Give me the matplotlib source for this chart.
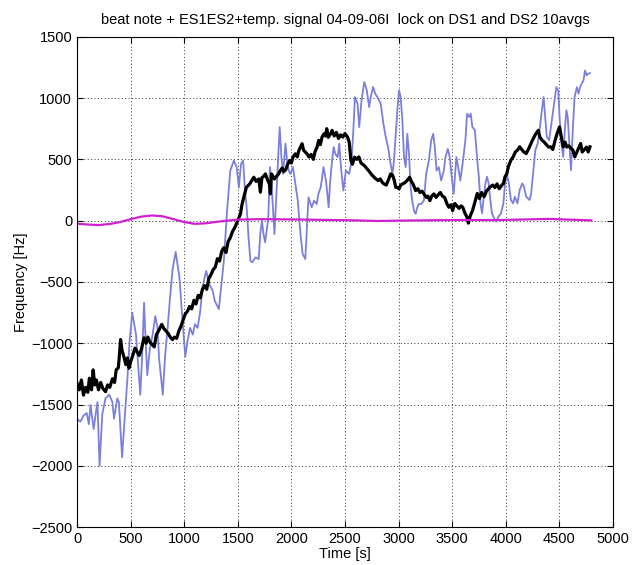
import numpy as np
import matplotlib.pyplot as plt

plt.rcParams['font.family'] = ['Liberation Sans', 'DejaVu Sans']

# blue trace
blue_t = [0, 30, 60, 90, 110, 125, 155, 170, 190, 210, 235, 265, 300, 330, 345, 375, 390, 420, 445, 470,
          490, 515, 550, 565, 590, 605, 625, 640, 655, 680, 705, 730, 750, 765, 800, 820, 845, 865, 890, 920,
          955, 980, 1010, 1030, 1055, 1080, 1100, 1125, 1150, 1170, 1205, 1235, 1265, 1285, 1323, 1370, 1400, 1430, 1463, 1490,
          1510, 1530, 1550, 1565, 1585, 1600, 1618, 1635, 1665, 1695, 1710, 1725, 1740, 1755, 1770, 1785, 1800, 1815, 1842, 1860,
          1875, 1891, 1907, 1922, 1945, 1960, 1975, 1990, 2015, 2037, 2060, 2085, 2105, 2130, 2145, 2160, 2190, 2212, 2237, 2252,
          2274, 2300, 2323, 2348, 2363, 2380, 2395, 2410, 2432, 2447, 2463, 2485, 2509, 2540, 2562, 2580, 2593, 2618, 2633, 2655,
          2680, 2704, 2726, 2741, 2763, 2782, 2803, 2834, 2859, 2881, 2902, 2921, 2943, 2958, 2974, 2989, 3005, 3020, 3036, 3051,
          3067, 3082, 3098, 3113, 3128, 3144, 3160, 3175, 3190, 3212, 3237, 3258, 3283, 3305, 3324, 3339, 3355, 3376, 3398, 3423,
          3438, 3460, 3478, 3500, 3515, 3540, 3562, 3577, 3602, 3624, 3640, 3660, 3674, 3689, 3713, 3735, 3750, 3765, 3780, 3796,
          3811, 3826, 3841, 3857, 3872, 3893, 3912, 3933, 3957, 3979, 3994, 4009, 4030, 4049, 4070, 4085, 4110, 4131, 4155, 4171,
          4192, 4223, 4238, 4262, 4277, 4299, 4320, 4338, 4354, 4369, 4384, 4406, 4427, 4451, 4473, 4491, 4503, 4521, 4537, 4552,
          4567, 4579, 4595, 4610, 4625, 4643, 4665, 4680, 4695, 4710, 4726, 4741, 4756, 4772, 4787]
blue_f = [-1615, -1640, -1590, -1570, -1660, -1505, -1700, -1600, -1480, -2000, -1580, -1450, -1420, -1480, -1615, -1450, -1480, -1930, -1600, -1285,
          -985, -750, -930, -1120, -1420, -1150, -670, -980, -1260, -1040, -930, -780, -870, -1120, -1420, -1120, -875, -655, -405, -255,
          -460, -765, -1110, -985, -875, -930, -845, -875, -735, -545, -410, -520, -570, -655, -722, -327, 80, 409, 490, 435,
          270, 463, 490, 270, 82, -136, -327, -340, -300, -313, -109, 0, -109, -177, -80, 27, 436, 300, -109, 218,
          490, 763, 518, 381, 627, 490, 409, 381, 436, 300, 163, -109, -272, -313, -55, 190, 109, 163, 136, 218,
          272, 436, 327, 109, 327, 490, 600, 545, 518, 627, 436, 245, 409, 381, 490, 763, 1008, 954, 763, 981,
          1131, 1063, 926, 1008, 1090, 1036, 1008, 954, 790, 681, 600, 490, 381, 490, 708, 900, 1063, 1008, 817, 518,
          436, 708, 545, 272, 163, 82, 55, 109, 136, 136, 163, 381, 490, 654, 708, 600, 409, 436, 327, 409,
          518, 585, 518, 327, 218, 518, 409, 327, 490, 654, 872, 846, 873, 765, 737, 493, 358, 141, 60, 195,
          304, 358, 304, 168, 60, 19, -8, 33, 60, 141, 304, 385, 304, 168, 141, 195, 141, 250, 304, 277,
          195, 168, 222, 439, 575, 629, 764, 900, 1008, 846, 683, 656, 792, 954, 1089, 1063, 846, 629, 520, 737,
          900, 846, 629, 412, 710, 1008, 1089, 1036, 1089, 1117, 1144, 1225, 1185, 1198, 1203]

# black trace
black_t = [0, 20, 40, 60, 80, 100, 115, 135, 150, 165, 180, 200, 220, 240, 265, 285, 305, 330, 350, 365,
           385, 395, 406, 420, 440, 455, 470, 485, 500, 520, 540, 560, 580, 600, 625, 645, 660, 680, 700, 720,
           740, 760, 775, 790, 810, 830, 850, 870, 890, 910, 930, 950, 970, 990, 1010, 1030, 1050, 1070, 1090, 1110,
           1130, 1150, 1170, 1190, 1210, 1230, 1250, 1270, 1290, 1310, 1330, 1350, 1370, 1390, 1410, 1430, 1450, 1470, 1490, 1500,
           1525, 1540, 1556, 1580, 1612, 1630, 1650, 1670, 1696, 1711, 1725, 1740, 1758, 1780, 1795, 1804, 1815, 1842, 1860, 1880,
           1898, 1915, 1930, 1950, 1966, 1985, 2000, 2015, 2037, 2055, 2070, 2085, 2100, 2115, 2130, 2150, 2165, 2185, 2205, 2220,
           2240, 2255, 2270, 2286, 2305, 2320, 2330, 2345, 2365, 2380, 2400, 2420, 2440, 2460, 2480, 2500, 2525, 2540, 2556, 2570,
           2590, 2610, 2630, 2650, 2680, 2700, 2720, 2745, 2772, 2790, 2810, 2830, 2850, 2865, 2885, 2900, 2927, 2945, 2960, 2974,
           2990, 3005, 3020, 3040, 3060, 3080, 3104, 3120, 3135, 3160, 3180, 3200, 3220, 3237, 3260, 3275, 3293, 3310, 3330, 3350,
           3370, 3390, 3410, 3430, 3453, 3470, 3490, 3505, 3525, 3545, 3565, 3585, 3600, 3620, 3640, 3652, 3670, 3690, 3710, 3735,
           3755, 3775, 3800, 3820, 3857, 3880, 3900, 3920, 3940, 3965, 3980, 3994, 4010, 4025, 4049, 4070, 4090, 4110, 4131, 4150,
           4170, 4192, 4210, 4223, 4250, 4270, 4283, 4305, 4320, 4340, 4360, 4380, 4400, 4421, 4440, 4460, 4480, 4503, 4520, 4537,
           4555, 4570, 4590, 4610, 4628, 4645, 4665, 4685, 4700, 4715, 4735, 4755, 4770, 4787]
black_f = [-1327, -1380, -1300, -1423, -1360, -1400, -1285, -1380, -1217, -1340, -1300, -1380, -1320, -1368, -1395, -1340, -1360, -1290, -1320, -1217,
           -1200, -1100, -970, -1060, -1120, -1175, -1120, -1203, -1150, -1100, -1040, -1070, -1100, -1050, -956, -1000, -950, -990, -1010, -1030,
           -930, -900, -873, -846, -880, -900, -920, -950, -970, -950, -960, -900, -860, -810, -760, -740, -700, -720, -650, -680,
           -610, -630, -560, -530, -560, -470, -440, -400, -380, -310, -330, -250, -220, -260, -170, -140, -90, -60, -20, 0,
           55, 136, 190, 272, 300, 327, 354, 320, 340, 232, 350, 360, 381, 327, 300, 218, 381, 340, 360, 380,
           409, 430, 400, 420, 463, 490, 470, 518, 545, 520, 572, 600, 627, 572, 560, 540, 518, 540, 500, 560,
           600, 654, 620, 681, 708, 690, 750, 680, 708, 736, 690, 720, 670, 700, 681, 710, 681, 640, 490, 460,
           518, 500, 520, 470, 450, 430, 409, 380, 354, 340, 327, 340, 310, 300, 290, 320, 381, 370, 330, 272,
           270, 259, 290, 300, 310, 327, 354, 320, 300, 245, 260, 230, 240, 218, 190, 200, 163, 200, 218, 190,
           210, 230, 200, 190, 136, 109, 130, 82, 140, 120, 100, 120, 109, 60, 27, -20, 40, 80, 141, 222,
           180, 230, 195, 240, 276, 290, 270, 300, 260, 290, 304, 358, 380, 439, 493, 520, 560, 575, 602, 580,
           560, 547, 580, 602, 656, 690, 710, 737, 680, 656, 640, 620, 600, 602, 580, 650, 710, 764, 680, 602,
           640, 600, 610, 590, 575, 520, 560, 600, 629, 560, 580, 600, 560, 602]

# magenta trace
mag_t = [0, 100, 200, 300, 400, 500, 600, 700, 800, 900, 1000, 1100, 1200, 1300, 1400, 1500, 1700, 2000, 2300, 2600,
         2800, 3000, 3300, 3600, 3900, 4200, 4400, 4600, 4800]
mag_f = [-25, -32, -36, -28, -12, 12, 33, 42, 35, 12, -12, -26, -22, -10, 0, 8, 12, 10, 6, 2,
         -3, 0, 3, 5, 4, 10, 14, 8, 2]

fig = plt.figure(figsize=(6.37, 5.65), dpi=100)
ax = fig.add_axes([0.121, 0.067, 0.841, 0.868])

ax.plot(blue_t, blue_f, color='#7a80dc', lw=1.3)
ax.plot(black_t, black_f, color='black', lw=2.3)
ax.plot(mag_t, mag_f, color='#d020d0', lw=1.6)

ax.set_xlim(0, 5000)
ax.set_ylim(-2500, 1500)
ax.set_xticks(np.arange(0, 5001, 500))
ax.set_yticks(np.arange(-2500, 1501, 500))
ax.grid(True, color='#333333', linestyle=(0, (1, 2.5)), linewidth=0.7)
ax.tick_params(direction='in', top=True, right=True, labelsize=10.5, length=4)
for s in ax.spines.values():
    s.set_linewidth(0.8)

ax.set_title('beat note + ES1ES2+temp. signal 04-09-06I  lock on DS1 and DS2 10avgs', fontsize=10.5, pad=9)
ax.set_xlabel('Time [s]', fontsize=10.5, labelpad=1)
ax.set_ylabel('Frequency [Hz]', fontsize=10.5, labelpad=2)

fig.savefig('out.png', dpi=100)
